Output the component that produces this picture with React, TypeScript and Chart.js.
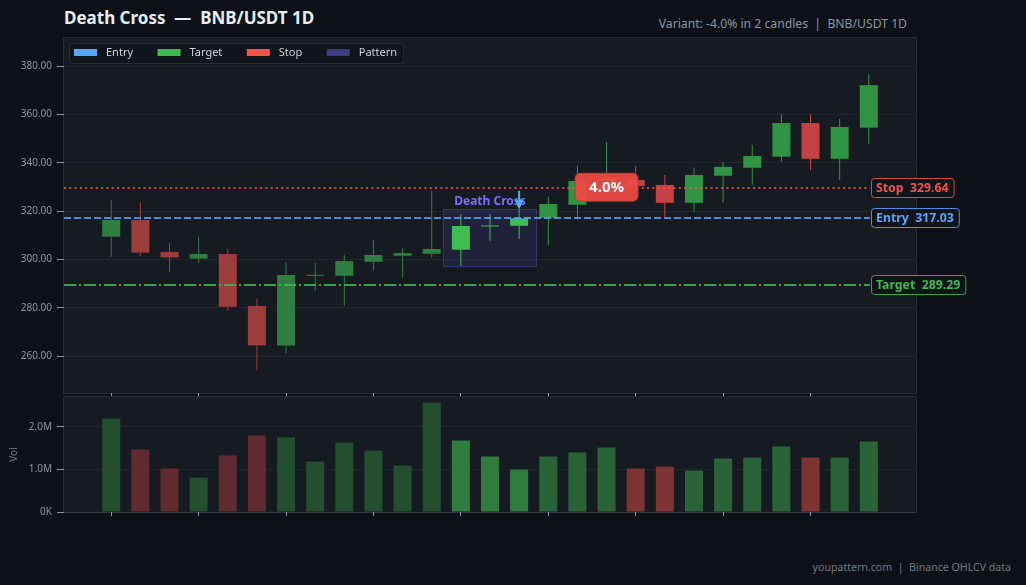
import React, { useEffect, useRef } from "react";
import { Chart, registerables } from "chart.js";

Chart.register(...registerables);

const FONT = '"Noto Sans", "Open Sans", "DejaVu Sans", sans-serif';

// ---------------- data ----------------
const opens = [309.4, 316.3, 303.0, 300.3, 302.2, 280.7, 264.4, 293.2, 293.2, 299.0, 301.5, 302.3, 304.0, 313.6, 313.9, 317.2, 322.6, 332.4, 332.8, 330.8, 323.4, 334.6, 337.9, 342.5, 356.4, 341.6, 354.5];
const closes = [316.3, 302.8, 300.8, 302.2, 280.4, 264.4, 293.5, 293.6, 299.3, 301.8, 302.6, 304.3, 313.8, 313.8, 317.0, 322.9, 332.4, 334.0, 330.3, 323.4, 334.9, 338.3, 342.8, 356.4, 341.6, 354.8, 372.1];
const highs = [324.6, 323.7, 306.9, 309.4, 304.4, 283.7, 298.9, 298.6, 301.8, 308.0, 304.6, 328.3, 318.8, 318.8, 320.5, 326.0, 338.6, 348.5, 338.6, 334.9, 337.9, 340.3, 347.3, 360.1, 360.1, 358.1, 376.7];
const lows = [301.1, 301.4, 294.9, 298.6, 278.7, 254.2, 261.1, 287.0, 280.8, 295.3, 292.4, 300.7, 297.3, 307.7, 308.4, 306.0, 317.4, 328.5, 328.5, 317.0, 319.6, 323.4, 330.8, 340.4, 337.0, 332.8, 347.8];
const volumes = [2195000, 1466000, 1019000, 807000, 1325000, 1795000, 1748000, 1184000, 1631000, 1443000, 1090000, 2572000, 1678000, 1301000, 996000, 1301000, 1395000, 1513000, 1019000, 1066000, 972000, 1254000, 1278000, 1537000, 1278000, 1278000, 1654000];

const patternStart = 12;
const patternEnd = 14;
const signalIndex = 14;
const outcomeIndex = 17;
const outcomeText = "4.0%";
const patternName = "Death Cross";
const levelNames = ["Stop", "Entry", "Target"];
const levelValues = [329.64, 317.03, 289.29];
const legendLabels = ["Entry", "Target", "Stop", "Pattern"];
const xTickEvery = 3;
const xMin = -1.62;
const xMax = 27.62;
const priceMin = 244.7;
const priceMax = 391.6;
const priceStep = 20;
const volMax = 2700000;
const volTicks = [0, 1000000, 2000000];

const titleText = "Death Cross  \u2014  BNB/USDT 1D";
const subtitleText = "Variant: -4.0% in 2 candles  |  BNB/USDT 1D";
const footerText = "youpattern.com  |  Binance OHLCV data";

// ---------------- styles ----------------
const PAGE_BG = "#0d1117";
const PLOT_BG = "#161b22";
const EDGE = "#262c36";
const TICK_TEXT = "#8b949e";
const TICK_MARK = "#8b949e";
const GRID = "rgba(240,246,252,0.05)";
const ENTRY_C = "#58a6ff";
const TARGET_C = "#3fb950";
const STOP_C = "#f85149";
const PATTERN_C = "#3d3a80";

const CANDLE_UP = ["#2e7d41", "#3fbd50", "#2f9444"];
const CANDLE_DOWN = ["#9c3d3c", "#e04a45", "#c44242"];
const VOL_UP = ["#234f30", "#2e7d3f", "#2a6338"];
const VOL_DOWN = ["#5f2b2e", "#8a3533", "#7e3435"];

const levelStyle: Record<string, { color: string; line: string; dash: number[] }> = {
  Stop: { color: STOP_C, line: "rgba(248,81,73,0.82)", dash: [2, 3.3] },
  Entry: { color: ENTRY_C, line: "rgba(88,166,255,0.82)", dash: [7, 3] },
  Target: { color: TARGET_C, line: "rgba(63,185,80,0.85)", dash: [12, 3, 2, 3] },
};
const legendColors: Record<string, string> = {
  Entry: ENTRY_C,
  Target: TARGET_C,
  Stop: STOP_C,
  Pattern: PATTERN_C,
};

const idx = opens.map((_, i) => i);
const phaseOf = (i: number) => (i < patternStart ? 0 : i <= patternEnd ? 1 : 2);
const isUp = (i: number) => closes[i] >= opens[i];
const candleColor = (i: number) => (isUp(i) ? CANDLE_UP : CANDLE_DOWN)[phaseOf(i)];
const volColor = (i: number) => (isUp(i) ? VOL_UP : VOL_DOWN)[phaseOf(i)];

function roundRect(ctx: CanvasRenderingContext2D, x: number, y: number, w: number, h: number, r: number) {
  ctx.beginPath();
  ctx.moveTo(x + r, y);
  ctx.arcTo(x + w, y, x + w, y + h, r);
  ctx.arcTo(x + w, y + h, x, y + h, r);
  ctx.arcTo(x, y + h, x, y, r);
  ctx.arcTo(x, y, x + w, y, r);
  ctx.closePath();
}

const plotBg = {
  id: "plotBg",
  beforeDraw(chart: any) {
    const { ctx, chartArea: a } = chart;
    ctx.save();
    ctx.fillStyle = PLOT_BG;
    ctx.fillRect(a.left, a.top, a.right - a.left, a.bottom - a.top);
    ctx.strokeStyle = EDGE;
    ctx.lineWidth = 1;
    ctx.strokeRect(a.left - 0.5, a.top - 0.5, a.right - a.left + 1, a.bottom - a.top + 1);
    ctx.restore();
  },
};

const overlay = {
  id: "overlay",
  beforeDatasetsDraw(chart: any) {
    const { ctx } = chart;
    const x = chart.scales.x;
    const y = chart.scales.y;
    const ph = highs.slice(patternStart, patternEnd + 1);
    const pl = lows.slice(patternStart, patternEnd + 1);
    const x0 = x.getPixelForValue(patternStart - 0.6);
    const x1 = x.getPixelForValue(patternEnd + 0.6);
    const y0 = y.getPixelForValue(Math.max(...ph) + 0.25);
    const y1 = y.getPixelForValue(Math.min(...pl) - 0.3);
    ctx.save();
    ctx.fillStyle = "rgba(88,80,200,0.15)";
    ctx.fillRect(x0, y0, x1 - x0, y1 - y0);
    ctx.strokeStyle = "rgba(100,90,210,0.35)";
    ctx.lineWidth = 1;
    ctx.strokeRect(Math.round(x0) + 0.5, Math.round(y0) + 0.5, Math.round(x1 - x0), Math.round(y1 - y0));
    ctx.restore();
  },
  afterDatasetsDraw(chart: any) {
    const { ctx, chartArea: a } = chart;
    const x = chart.scales.x;
    const y = chart.scales.y;
    ctx.save();

    // level lines
    const lineEnd = x.getPixelForValue(opens.length - 1) + 1;
    levelNames.forEach((name, k) => {
      const st = levelStyle[name];
      const py = Math.round(y.getPixelForValue(levelValues[k]));
      ctx.strokeStyle = st.line;
      ctx.lineWidth = 2;
      ctx.setLineDash(st.dash);
      ctx.beginPath();
      ctx.moveTo(a.left, py);
      ctx.lineTo(lineEnd, py);
      ctx.stroke();
    });
    ctx.setLineDash([]);

    // pattern label + arrow
    const bx0 = x.getPixelForValue(patternStart - 0.6);
    const bx1 = x.getPixelForValue(patternEnd + 0.6);
    const by0 = y.getPixelForValue(Math.max(...highs.slice(patternStart, patternEnd + 1)) + 0.25);
    ctx.font = `bold 12px ${FONT}`;
    ctx.fillStyle = "#7b6ef6";
    ctx.textAlign = "center";
    ctx.textBaseline = "alphabetic";
    ctx.fillText(patternName, (bx0 + bx1) / 2, by0 - 4);

    const ax = x.getPixelForValue(signalIndex);
    const tip = y.getPixelForValue(highs[signalIndex]);
    ctx.strokeStyle = ENTRY_C;
    ctx.fillStyle = ENTRY_C;
    ctx.lineWidth = 2;
    ctx.beginPath();
    ctx.moveTo(ax, tip - 19);
    ctx.lineTo(ax, tip - 8);
    ctx.stroke();
    ctx.beginPath();
    ctx.moveTo(ax - 4.5, tip - 10);
    ctx.lineTo(ax + 4.5, tip - 10);
    ctx.lineTo(ax, tip);
    ctx.closePath();
    ctx.fill();

    // outcome badge
    const stopVal = levelValues[levelNames.indexOf("Stop")];
    const cx = x.getPixelForValue(outcomeIndex);
    const cy = y.getPixelForValue(stopVal) - 0.5;
    ctx.font = `bold 15px ${FONT}`;
    const tw = ctx.measureText(outcomeText).width;
    const bw = tw + 28;
    const bh = 28;
    roundRect(ctx, cx - bw / 2, cy - bh / 2, bw, bh, 5);
    ctx.fillStyle = "rgba(236,74,68,0.95)";
    ctx.fill();
    ctx.strokeStyle = "rgba(190,55,52,0.9)";
    ctx.lineWidth = 1;
    ctx.stroke();
    ctx.fillStyle = "#ffffff";
    ctx.textAlign = "center";
    ctx.textBaseline = "middle";
    ctx.fillText(outcomeText, cx, cy + 1);

    // level labels at right
    ctx.font = `bold 12.3px ${FONT}`;
    levelNames.forEach((name, k) => {
      const st = levelStyle[name];
      const py = Math.round(y.getPixelForValue(levelValues[k]));
      const txt = `${name}  ${levelValues[k].toFixed(2)}`;
      const w = ctx.measureText(txt).width + 10;
      const lx = Math.round(lineEnd + 1) + 0.5;
      roundRect(ctx, lx, py - 9.5, w, 19, 3);
      ctx.fillStyle = "#0f141b";
      ctx.fill();
      ctx.strokeStyle = st.color;
      ctx.globalAlpha = 0.85;
      ctx.lineWidth = 1;
      ctx.stroke();
      ctx.globalAlpha = 1;
      ctx.fillStyle = st.color;
      ctx.textAlign = "left";
      ctx.textBaseline = "middle";
      ctx.fillText(txt, lx + 4.5, py + 0.5);
    });

    // legend
    ctx.font = `11px ${FONT}`;
    const gap = 24.5;
    const lgX = a.left + 5;
    const lgY = a.top + 5;
    let total = 5;
    legendLabels.forEach((l, k) => {
      total += 23 + 9 + ctx.measureText(l).width + (k < legendLabels.length - 1 ? gap : 6);
    });
    roundRect(ctx, lgX + 0.5, lgY + 0.5, total, 20, 3);
    ctx.fillStyle = "rgba(13,17,23,0.55)";
    ctx.fill();
    ctx.strokeStyle = "#262c36";
    ctx.stroke();
    let cxL = lgX + 5;
    const midY = lgY + 9.5;
    legendLabels.forEach((l) => {
      ctx.fillStyle = legendColors[l];
      ctx.fillRect(cxL, midY - 3.5, 23, 7);
      cxL += 23 + 9;
      ctx.fillStyle = "#c9d1d9";
      ctx.textAlign = "left";
      ctx.textBaseline = "middle";
      ctx.fillText(l, cxL, midY);
      cxL += ctx.measureText(l).width + gap;
    });

    ctx.restore();
  },
};

const xTickValues = idx.filter((i) => i % xTickEvery === 0);

function xScaleOptions() {
  return {
    type: "linear",
    min: xMin,
    max: xMax,
    offset: false,
    afterBuildTicks: (s: any) => {
      s.ticks = xTickValues.map((v) => ({ value: v }));
    },
    ticks: { display: false },
    grid: {
      offset: false,
      drawOnChartArea: false,
      drawTicks: true,
      tickLength: 4,
      tickColor: TICK_MARK,
    },
    border: { display: false },
  };
}

export default function App() {
  const mainRef = useRef<HTMLCanvasElement>(null);
  const volRef = useRef<HTMLCanvasElement>(null);

  useEffect(() => {
    const main = new Chart(mainRef.current as HTMLCanvasElement, {
      type: "bar",
      data: {
        datasets: [
          {
            label: "body",
            data: idx.map((i) => ({ x: i, y: [opens[i], closes[i]] })) as any,
            backgroundColor: idx.map(candleColor),
            barThickness: 18,
            minBarLength: 1,
            grouped: false,
            borderWidth: 0,
            borderSkipped: false,
            inflateAmount: 0,
            order: 0,
          } as any,
          {
            label: "wick",
            data: idx.map((i) => ({ x: i, y: [lows[i], highs[i]] })) as any,
            backgroundColor: idx.map(candleColor),
            barThickness: 1,
            grouped: false,
            borderWidth: 0,
            borderSkipped: false,
            inflateAmount: 0,
            order: 1,
          } as any,
        ],
      },
      options: {
        responsive: false,
        animation: false,
        events: [],
        layout: { padding: { top: 38, right: 110, left: 0, bottom: 0 } },
        plugins: { legend: { display: false }, tooltip: { enabled: false } },
        scales: {
          x: xScaleOptions() as any,
          y: {
            min: priceMin,
            max: priceMax,
            afterFit: (s: any) => {
              s.width = 64;
            },
            ticks: {
              stepSize: priceStep,
              includeBounds: false,
              color: TICK_TEXT,
              padding: 5,
              font: { family: FONT, size: 10 },
              callback: (v: any) => Number(v).toFixed(2),
            },
            grid: { color: GRID, tickColor: TICK_MARK, tickLength: 7 },
            border: { display: false },
          },
        },
      },
      plugins: [plotBg, overlay],
    });

    const vol = new Chart(volRef.current as HTMLCanvasElement, {
      type: "bar",
      data: {
        datasets: [
          {
            label: "Vol",
            data: idx.map((i) => ({ x: i, y: volumes[i] })) as any,
            backgroundColor: idx.map(volColor),
            barThickness: 18,
            grouped: false,
            borderWidth: 0,
            inflateAmount: 0,
          } as any,
        ],
      },
      options: {
        responsive: false,
        animation: false,
        events: [],
        layout: { padding: { top: 0, right: 110, left: 0, bottom: 0 } },
        plugins: { legend: { display: false }, tooltip: { enabled: false } },
        scales: {
          x: xScaleOptions() as any,
          y: {
            min: 0,
            max: volMax,
            afterBuildTicks: (s: any) => {
              s.ticks = volTicks.map((v) => ({ value: v }));
            },
            afterFit: (s: any) => {
              s.width = 64;
            },
            title: {
              display: true,
              text: "Vol",
              color: "#6e7681",
              font: { family: FONT, size: 10 },
              padding: { top: 8, bottom: 0 },
            },
            ticks: {
              color: TICK_TEXT,
              padding: 5,
              font: { family: FONT, size: 10 },
              callback: (v: any) => (Number(v) === 0 ? "0K" : (Number(v) / 1e6).toFixed(1) + "M"),
            },
            grid: { color: GRID, tickColor: TICK_MARK, tickLength: 7 },
            border: { display: false },
          },
        },
      },
      plugins: [plotBg],
    });

    return () => {
      main.destroy();
      vol.destroy();
    };
  }, []);

  return (
    <div
      style={{
        position: "fixed",
        left: 0,
        top: 0,
        width: 1026,
        height: 585,
        background: PAGE_BG,
        overflow: "hidden",
        fontFamily: FONT,
      }}
    >
      <div
        style={{
          position: "absolute",
          left: 64,
          top: 8.5,
          fontSize: 17,
          lineHeight: "17px",
          fontWeight: 700,
          color: "#e6edf3",
          whiteSpace: "pre",
        }}
      >
        {titleText}
      </div>
      <div
        style={{
          position: "absolute",
          right: 1026 - 907,
          top: 17.5,
          fontSize: 12.2,
          lineHeight: "12px",
          color: "#8b949e",
          whiteSpace: "pre",
        }}
      >
        {subtitleText}
      </div>
      <canvas ref={mainRef} width={1026} height={404} style={{ position: "absolute", left: 0, top: 0 }} />
      <canvas ref={volRef} width={1026} height={137} style={{ position: "absolute", left: 0, top: 386 }} />
      <div
        style={{
          position: "absolute",
          right: 1026 - 1011,
          top: 561.5,
          fontSize: 10.6,
          lineHeight: "11px",
          color: "#6e7681",
          whiteSpace: "pre",
        }}
      >
        {footerText}
      </div>
    </div>
  );
}
